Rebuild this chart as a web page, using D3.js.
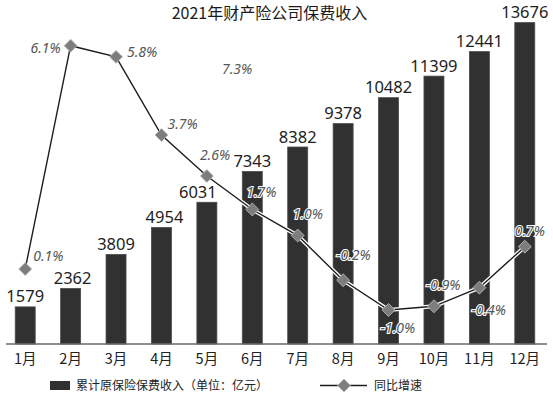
<!DOCTYPE html>
<html><head><meta charset="utf-8">
<script src="https://cdn.jsdelivr.net/npm/d3@7"></script>
<style>
html,body{margin:0;padding:0;background:#fff;}
svg{display:block;font-family:"Noto Sans CJK SC","Noto Sans",sans-serif;}
</style></head>
<body>
<svg id="c" width="553" height="397"></svg>
<script>
// ---- data ----
const months = ["1月","2月","3月","4月","5月","6月","7月","8月","9月","10月","11月","12月"];
const premium = [1579,2362,3809,4954,6031,7343,8382,9378,10482,11399,12441,13676];
const growth = [0.1,6.1,5.8,3.7,2.6,1.7,1.0,-0.2,-1.0,-0.9,-0.4,0.7];
const growthLabels = ["0.1%","6.1%","5.8%","3.7%","2.6%","1.7%","1.0%","-0.2%","-1.0%","-0.9%","-0.4%","0.7%"];
const extraLabels = ["7.3%"];
const title = "2021年财产险公司保费收入";
const legendBar = "累计原保险保费收入（单位：亿元）";
const legendLine = "同比增速";

// ---- drawing ----
const svg = d3.select("#c");
const x = d3.scaleBand().domain(months).range([2.5, 547.5]).paddingInner(0.56).paddingOuter(0.28);
const y = d3.scaleLinear().domain([0, 14000]).range([344, 15]);
const y2 = d3.scaleLinear().domain([-1.0, 6.1]).range([310, 45.7]);
const cx = m => x(m) + x.bandwidth() / 2;

svg.append("text").attr("x", 269.5).attr("y", 18.5).attr("text-anchor", "middle")
  .attr("font-size", 16).attr("fill", "#1a1a1a").text(title);

// bars
svg.append("g").selectAll("rect").data(premium).join("rect")
  .attr("x", (d, i) => x(months[i])).attr("width", x.bandwidth())
  .attr("y", d => y(d)).attr("height", d => y(0) - y(d))
  .attr("fill", "#313131").attr("stroke", "#4a4a4a").attr("stroke-width", 0.8);

// value labels
const valNudge = [0, 2, 0, 3, -9, 0, 0, 0, 0, 0, 0, 0];
svg.append("g").selectAll("text").data(premium).join("text")
  .attr("x", (d, i) => cx(months[i]) + valNudge[i]).attr("y", d => y(d) - 4.5)
  .attr("text-anchor", "middle").attr("font-size", 16.5).attr("fill", "#1e1e1e")
  .attr("font-family", "'Noto Sans',sans-serif")
  .text(d => d);

// axis
const axis = svg.append("g").attr("transform", `translate(0,${y(0)})`)
  .call(d3.axisBottom(x).tickSize(0).tickPadding(0));
axis.select(".domain").attr("d", "M6,0H547").attr("stroke", "#6a6a6a").attr("stroke-width", 1.6);
axis.selectAll(".tick text").attr("font-size", 14.5).attr("fill", "#222")
  .attr("font-family", "'Noto Sans CJK SC',sans-serif").attr("dy", 0).attr("y", 20);

// line
const line = d3.line().x((d, i) => cx(months[i])).y(d => y2(d));
svg.append("path").datum(growth).attr("d", line).attr("fill", "none")
  .attr("stroke", "#fff").attr("stroke-width", 4);
svg.append("path").datum(growth).attr("d", line).attr("fill", "none")
  .attr("stroke", "#1e1e1e").attr("stroke-width", 1.4);

const diamond = d3.symbol().type(d3.symbolSquare).size(84);
svg.append("g").selectAll("path").data(growth).join("path")
  .attr("d", diamond)
  .attr("transform", (d, i) => `translate(${cx(months[i])},${y2(d)}) rotate(45)`)
  .attr("fill", "#7d7d7d").attr("stroke", "#bbb").attr("stroke-width", 0.8);

// growth labels (placement offsets relative to each point)
const place = [[8,-8],[-10,7],[11,0],[6,-6],[-7,-16],[-6,-12],[-5,-17],[-7,-20],[-8,23],[-8,-16],[-8,27],[-10,-11]];
const anchors = ["start","end","start","start","start","start","start","start","start","start","start","start"];
svg.append("g").selectAll("text").data(growth).join("text")
  .attr("x", (d, i) => cx(months[i]) + place[i][0])
  .attr("y", (d, i) => y2(d) + place[i][1])
  .attr("text-anchor", (d, i) => anchors[i])
  .attr("font-size", 14).attr("font-style", "italic").attr("fill", "#555")
  .attr("font-family", "'Noto Sans',sans-serif")
  .attr("stroke", "#fff").attr("stroke-width", 2.2).attr("paint-order", "stroke")
  .text((d, i) => growthLabels[i]);

svg.append("text").attr("x", 222).attr("y", 74)
  .attr("font-size", 14).attr("font-style", "italic").attr("fill", "#555")
  .attr("font-family", "'Noto Sans',sans-serif").text(extraLabels[0]);

// legend
svg.append("rect").attr("x", 50).attr("y", 381).attr("width", 20).attr("height", 9).attr("fill", "#313131");
svg.append("text").attr("x", 76).attr("y", 390).attr("font-size", 12).attr("fill", "#222").text(legendBar);
svg.append("line").attr("x1", 320).attr("x2", 367).attr("y1", 385.5).attr("y2", 385.5)
  .attr("stroke", "#1e1e1e").attr("stroke-width", 1.4);
svg.append("path").attr("d", diamond).attr("transform", "translate(344,385.5) rotate(45)")
  .attr("fill", "#7d7d7d").attr("stroke", "#bbb").attr("stroke-width", 0.8);
svg.append("text").attr("x", 374).attr("y", 390).attr("font-size", 12).attr("fill", "#222").text(legendLine);
</script>
</body></html>
